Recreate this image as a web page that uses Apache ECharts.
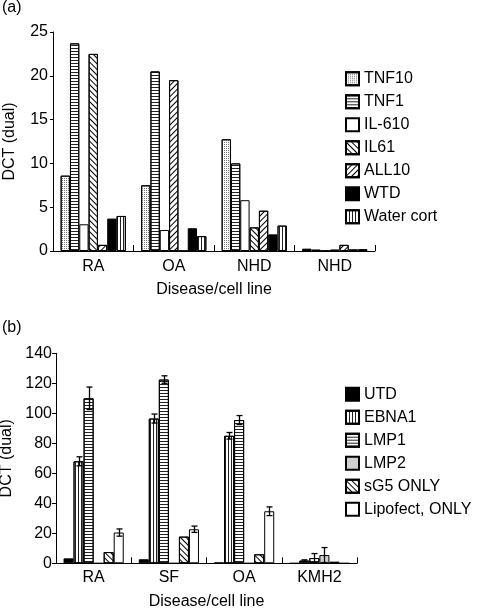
<!DOCTYPE html>
<html><head><meta charset="utf-8">
<script src="https://cdn.jsdelivr.net/npm/echarts@6/dist/echarts.min.js"></script>
<style>html,body{margin:0;padding:0;background:#fff}#c{width:477px;height:612px}</style>
</head><body><div id="c"></div>
<script>
// ---- Panel (a) data ----
const catsA = ['RA', 'OA', 'NHD', 'NHD'];
const tnf10 = [8.6, 7.5, 12.75, 0.25];
const tnf1 = [23.7, 20.5, 10.0, 0.15];
const il610 = [3.05, 2.4, 5.8, 0.05];
const il61 = [22.5, 19.5, 2.7, 0.15];
const all10 = [0.7, 0, 4.6, 0.7];
const wtd = [3.7, 2.6, 1.9, 0.2];
const water = [4.0, 1.7, 2.9, 0.2];
const yTicksA = [0, 5, 10, 15, 20, 25];

// ---- Panel (b) data ----
const catsB = ['RA', 'SF', 'OA', 'KMH2'];
const utd = [3.3, 2.7, 0.5, 0];
const ebna1 = [68, 96.5, 85, 1.8];
const ebna1Err = [3, 3, 2.2, 0.5];
const lmp1 = [110, 122.5, 95.5, 3.5];
const lmp1Err = [7.5, 2.5, 3, 3];
const lmp2 = [0, 0, 0, 5.5];
const lmp2Err = [0, 0, 0, 5];
const sg5 = [7.5, 17.8, 6, 1.0];
const lipo = [20.5, 22.7, 34.7, 0];
const lipoErr = [2.4, 2.1, 2.9, 0];
const yTicksB = [0, 20, 40, 60, 80, 100, 120, 140];

const FONT = 'Liberation Sans, Arial, sans-serif';
const FS = 16;
const dec = {
  dots: {symbol: 'rect', symbolSize: 1, dashArrayX: [1, 1], dashArrayY: [1, 1], color: '#777'},
  h: {symbol: 'rect', symbolSize: 1, dashArrayX: [1, 0], dashArrayY: [1, 2], color: '#222'},
  v: {symbol: 'rect', symbolSize: 1, dashArrayX: [1, 2], dashArrayY: [1, 0], color: '#222'},
  back: {symbol: 'rect', symbolSize: 1, dashArrayX: [1, 0], dashArrayY: [1, 3], rotation: Math.PI / 4, color: '#000'},
  fwd: {symbol: 'rect', symbolSize: 1, dashArrayX: [1, 0], dashArrayY: [1, 3], rotation: -Math.PI / 4, color: '#000'}
};
function st(color, decal) {
  const s = {color: color, borderColor: '#000', borderWidth: 1};
  if (decal) s.decal = decal;
  return s;
}
const GAP_A = 0.19, GAP_B = 0.2;

function barA(name, data, style) {
  return {name, type: 'bar', xAxisIndex: 0, yAxisIndex: 0, data, barGap: '0%',
    barCategoryGap: (GAP_A * 100) + '%', itemStyle: style, emphasis: {disabled: true}};
}
function barB(name, data, style) {
  return {name, type: 'bar', xAxisIndex: 1, yAxisIndex: 1, data, barGap: '0%',
    barCategoryGap: (GAP_B * 100) + '%', itemStyle: style, emphasis: {disabled: true}};
}

// OA's IL61 slot bar is drawn with forward hatching in the original
const il61Data = il61.map((v, i) => i === 1 ? {value: v, itemStyle: {decal: dec.fwd}} : v);

const seriesB = [
  barB('UTD', utd, st('#000')),
  barB('EBNA1', ebna1, st('#fff', dec.v)),
  barB('LMP1', lmp1, st('#fff', dec.h)),
  barB('LMP2', lmp2, st('#d0d0d0')),
  barB('sG5 ONLY', sg5, st('#fff', dec.back)),
  barB('Lipofect, ONLY', lipo, st('#fff'))
];
const nB = 6;
const errData = [];
[[1, ebna1, ebna1Err], [2, lmp1, lmp1Err], [3, lmp2, lmp2Err], [5, lipo, lipoErr]].forEach(([si, vals, errs]) => {
  vals.forEach((v, ci) => { if (errs[ci] > 0) errData.push([ci, v, errs[ci], si]); });
});

const txt = {fontSize: FS, color: '#000', fontFamily: FONT};
const option = {
  animation: false,
  textStyle: {fontFamily: FONT},
  graphic: [
    {type: 'text', left: 2, top: 0, style: {text: '(a)', font: FS + 'px ' + FONT, fill: '#000'}},
    {type: 'text', left: 2, top: 320, style: {text: '(b)', font: FS + 'px ' + FONT, fill: '#000'}}
  ],
  grid: [
    {left: 53, top: 32, width: 322, height: 219, containLabel: false, outerBoundsMode: 'none'},
    {left: 56, top: 353.3, width: 301, height: 210, containLabel: false, outerBoundsMode: 'none'}
  ],
  legend: [
    {data: ['TNF10', 'TNF1', 'IL-610', 'IL61', 'ALL10', 'WTD', 'Water cort'], orient: 'vertical',
      left: 345, top: 70.8, padding: 0, icon: 'rect', itemWidth: 13, itemHeight: 13, itemGap: 7, selectedMode: false,
      textStyle: txt},
    {data: ['UTD', 'EBNA1', 'LMP1', 'LMP2', 'sG5 ONLY', 'Lipofect, ONLY'], orient: 'vertical',
      left: 345, top: 386.2, padding: 0, icon: 'rect', itemWidth: 13, itemHeight: 13, itemGap: 7, selectedMode: false,
      textStyle: txt}
  ],
  xAxis: [
    {type: 'category', gridIndex: 0, data: catsA,
      axisLine: {lineStyle: {color: '#000', width: 1}},
      axisTick: {show: true, inside: true, length: 6, lineStyle: {color: '#000'}},
      axisLabel: Object.assign({margin: 8}, txt),
      name: 'Disease/cell line', nameLocation: 'middle', nameGap: 31,
      nameTextStyle: txt},
    {type: 'category', gridIndex: 1, data: catsB,
      axisLine: {lineStyle: {color: '#000', width: 1}},
      axisTick: {show: true, inside: true, length: 6, lineStyle: {color: '#000'}},
      axisLabel: Object.assign({margin: 6}, txt),
      name: 'Disease/cell line', nameLocation: 'middle', nameGap: 30,
      nameTextStyle: txt}
  ],
  yAxis: [
    {type: 'value', gridIndex: 0, min: yTicksA[0], max: yTicksA[yTicksA.length - 1], interval: yTicksA[1] - yTicksA[0],
      splitLine: {show: false},
      axisLine: {show: true, lineStyle: {color: '#000', width: 1}},
      axisTick: {show: true, length: 3, lineStyle: {color: '#000'}},
      axisLabel: Object.assign({margin: 5}, txt),
      name: 'DCT (dual)', nameLocation: 'middle', nameGap: 35,
      nameTextStyle: txt},
    {type: 'value', gridIndex: 1, min: yTicksB[0], max: yTicksB[yTicksB.length - 1], interval: yTicksB[1] - yTicksB[0],
      splitLine: {show: false},
      axisLine: {show: true, lineStyle: {color: '#000', width: 1}},
      axisTick: {show: true, length: 4, lineStyle: {color: '#000'}},
      axisLabel: Object.assign({margin: 4}, txt),
      name: 'DCT (dual)', nameLocation: 'middle', nameGap: 38,
      nameTextStyle: txt}
  ],
  series: [
    barA('TNF10', tnf10, st('#fff', dec.dots)),
    barA('TNF1', tnf1, st('#fff', dec.h)),
    barA('IL-610', il610, st('#fff')),
    barA('IL61', il61Data, st('#fff', dec.back)),
    barA('ALL10', all10, st('#fff', dec.fwd)),
    barA('WTD', wtd, st('#000')),
    barA('Water cort', water, st('#fff', dec.v)),
    ...seriesB,
    {type: 'custom', name: 'err', xAxisIndex: 1, yAxisIndex: 1, z: 10, data: errData,
      renderItem: function (params, api) {
        const ci = api.value(0), v = api.value(1), e = api.value(2), si = api.value(3);
        const cx = api.coord([ci, 0])[0];
        const band = api.size([1, 0])[0];
        const inner = band * (1 - GAP_B);
        const bw = inner / nB;
        const x = Math.round(cx - inner / 2 + (si + 0.5) * bw) + 0.5;
        const yT = api.coord([ci, v + e])[1];
        const yB = api.coord([ci, Math.max(0, v - e)])[1];
        const cap = 3;
        const ls = {stroke: '#000', lineWidth: 1.3};
        return {type: 'group', children: [
          {type: 'line', shape: {x1: x, y1: yT, x2: x, y2: yB}, style: ls},
          {type: 'line', shape: {x1: x - cap, y1: yT, x2: x + cap, y2: yT}, style: ls},
          {type: 'line', shape: {x1: x - cap, y1: yB, x2: x + cap, y2: yB}, style: ls}
        ]};
      }}
  ]
};
const chart = echarts.init(document.getElementById('c'), null, {renderer: 'canvas'});
chart.setOption(option);
</script>
</body></html>
